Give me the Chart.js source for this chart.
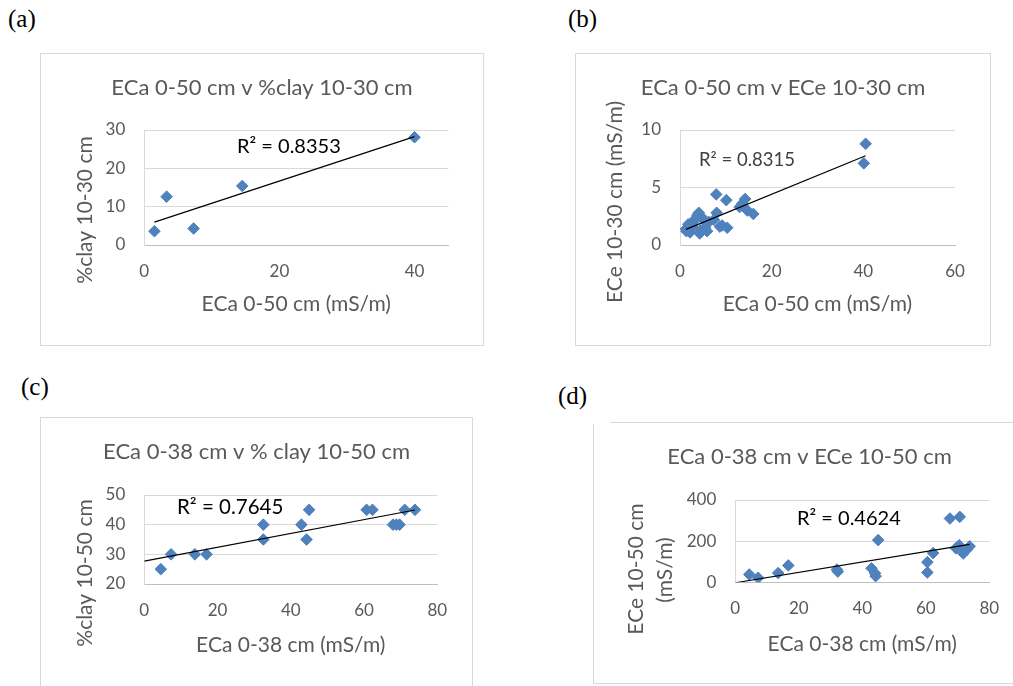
<!DOCTYPE html>
<html>
<head>
<meta charset="utf-8">
<script src="https://cdn.jsdelivr.net/npm/chart.js@4.4.1/dist/chart.umd.min.js"></script>
<style>
    body { margin: 0; background: #fff; width: 1013px; height: 686px; overflow: hidden; position: relative; }
    .tag { position: absolute; font-family: "Liberation Serif", "DejaVu Serif", serif; font-size: 25px; line-height: 25px; color: #000; }
    .box { position: absolute; border: 1px solid #d9d9d9; box-sizing: border-box; }
    canvas { position: absolute; }
</style>
</head>
<body>
<div class="tag" style="left:8px; top:6px">(a)</div>
<div class="tag" style="left:568px; top:6px">(b)</div>
<div class="tag" style="left:21px; top:374px">(c)</div>
<div class="tag" style="left:558px; top:383px">(d)</div>

<div class="box" style="left:40px; top:53px; width:444px; height:293px"></div>
<div class="box" style="left:575px; top:53px; width:416px; height:293px"></div>
<div class="box" style="left:40px; top:417px; width:433px; height:290px"></div>
<div class="box" style="left:593px; top:424px; width:440px; height:260px; border-top:none"></div>
<div class="box" style="left:610px; top:422px; width:420px; height:1px; border:none; background:#d9d9d9"></div>

<canvas id="chartA"></canvas>
<canvas id="chartB"></canvas>
<canvas id="chartC"></canvas>
<canvas id="chartD"></canvas>

<script>
// (a) ECa 0-50 cm vs %clay 10-30 cm
const aX = [1.5, 3.3, 7.3, 14.5, 40.0];
const aY = [3.6, 12.6, 4.3, 15.4, 28.1];

// (b) ECa 0-50 cm vs ECe 10-30 cm
const bX = [1.3, 1.4, 1.8, 2.2, 2.7, 3.1, 3.4, 3.8, 4.1, 4.3, 4.5, 4.8, 5.1, 5.5, 5.9, 6.3, 7.4, 7.9, 8.0, 8.7, 9.2, 10.1, 10.3, 13.0, 13.6, 14.2, 14.7, 16.0, 40.1, 40.5];
const bY = [1.4, 1.2, 1.8, 1.1, 1.6, 2.1, 2.3, 2.6, 2.8, 1.0, 1.3, 2.4, 2.2, 1.5, 1.2, 2.0, 2.2, 4.4, 2.8, 1.6, 1.7, 3.9, 1.5, 3.3, 3.6, 4.0, 3.0, 2.7, 7.1, 8.8];

// (c) ECa 0-38 cm vs % clay 10-50 cm
const cX = [4.5, 7.3, 13.8, 17.0, 32.5, 32.5, 42.9, 44.3, 45.0, 60.7, 62.3, 67.9, 68.8, 69.7, 71.1, 73.9];
const cY = [25, 30, 30, 30, 40, 35, 40, 35, 45, 45, 45, 40, 40, 40, 45, 45];

// (d) ECa 0-38 cm vs ECe 10-50 cm
const dX = [4.4, 7.2, 13.5, 16.7, 32.0, 32.3, 42.9, 44.0, 44.2, 45.0, 60.5, 60.5, 62.3, 67.6, 70.7, 69.5, 70.5, 71.8, 73.0, 73.8];
const dY = [38, 22, 45, 82, 62, 52, 68, 44, 30, 205, 98, 48, 142, 310, 318, 165, 180, 140, 160, 175];

const titles = ["ECa 0-50 cm v %clay 10-30 cm", "ECa 0-50 cm v ECe 10-30 cm", "ECa 0-38 cm v % clay 10-50 cm", "ECa 0-38 cm v ECe 10-50 cm"];
const xTitles = ["ECa 0-50 cm (mS/m)", "ECa 0-50 cm (mS/m)", "ECa 0-38 cm (mS/m)", "ECa 0-38 cm (mS/m)"];
const yTitles = [["%clay 10-30 cm"], ["ECe 10-30 cm (mS/m)"], ["%clay 10-50 cm"], ["ECe 10-50 cm", "(mS/m)"]];
const r2Labels = ["R² = 0.8353", "R² = 0.8315", "R² = 0.7645", "R² = 0.4624"];

const xMax = [45, 60, 80, 80];
const xStep = [20, 20, 20, 20];
const yMin = [0, 0, 20, 0];
const yMax = [30, 10, 50, 400];
const yStep = [10, 5, 10, 200];
const trendFrom = [null, null, 0, 0]; // null = start at smallest x

const GREY = "#595959";
const FONT = "Lato";
const TITLE_SIZE = 22;
const AXIS_SIZE = 21;

// placement of each panel inside the page (px)
const layouts = [
    { id: "chartA", box: [40, 53, 444, 293], area: [104.3, 77, 408.3, 192], titleY: 35, xTitleY: 251,
      yTitle: [[45, 157]], r2: [197, 94, 20, "#000"] },
    { id: "chartB", box: [575, 53, 416, 293], area: [105, 77, 380, 192], titleY: 35, xTitleY: 251,
      yTitle: [[40, 149]], r2: [124, 107, 18.5, "#404040"] },
    { id: "chartC", box: [40, 417, 433, 269], area: [104.3, 78, 397.3, 167], titleY: 34.7, xTitleY: 228,
      yTitle: [[45, 156]], r2: [137, 90, 20.5, "#000"] },
    { id: "chartD", box: [593, 422, 433, 261], area: [142.3, 78, 396.3, 160.3], titleY: 35.3, xTitleY: 222,
      yTitle: [[43.7, 147], [72.7, 148]], r2: [204, 97, 20, "#000"] },
];

const freeText = {
    id: "freeText",
    afterDraw(chart, args, opts) {
        const ctx = chart.ctx;
        (opts.items || []).forEach((it) => {
            ctx.save();
            ctx.translate(it.x, it.y);
            if (it.rotate) ctx.rotate(it.rotate);
            ctx.font = it.font;
            ctx.fillStyle = it.color;
            ctx.textAlign = it.align || "center";
            ctx.textBaseline = "middle";
            ctx.fillText(it.text, 0, 0);
            ctx.restore();
        });
    },
};

function fitLine(xs, ys) {
    const n = xs.length;
    const mx = xs.reduce((s, v) => s + v, 0) / n;
    const my = ys.reduce((s, v) => s + v, 0) / n;
    let sxy = 0;
    let sxx = 0;
    xs.forEach((x, i) => {
        sxy += (x - mx) * (ys[i] - my);
        sxx += (x - mx) * (x - mx);
    });
    const slope = sxy / sxx;
    return { slope, intercept: my - slope * mx };
}

function makeChart(i, xs, ys) {
    const L = layouts[i];
    const [left, top, W, H] = L.box;
    const canvas = document.getElementById(L.id);
    canvas.width = W;
    canvas.height = H;
    canvas.style.left = left + "px";
    canvas.style.top = top + "px";

    const fit = fitLine(xs, ys);
    const x0 = trendFrom[i] === null ? Math.min(...xs) : trendFrom[i];
    const x1 = Math.max(...xs);
    const trend = [x0, x1].map((x) => ({ x, y: fit.intercept + fit.slope * x }));
    const points = xs.map((x, k) => ({ x, y: ys[k] }));

    const items = yTitles[i].map((t, k) => ({
        text: t, x: L.yTitle[k][0], y: L.yTitle[k][1], rotate: -Math.PI / 2,
        font: `${AXIS_SIZE}px ${FONT}`, color: GREY,
    }));
    items.push({
        text: r2Labels[i], x: L.r2[0], y: L.r2[1], align: "left",
        font: `${L.r2[2]}px ${FONT}`, color: L.r2[3],
    });

    const tHalf = TITLE_SIZE * 0.6;
    const aHalf = AXIS_SIZE * 0.6;
    const tickFont = { family: FONT, size: 17 };
    new Chart(canvas, {
        type: "scatter",
        data: {
            datasets: [
                {
                    data: trend,
                    showLine: true,
                    borderColor: "#000",
                    borderWidth: 1.2,
                    pointRadius: 0,
                    order: 0,
                },
                {
                    data: points,
                    pointStyle: "rectRot",
                    pointRadius: 5.8,
                    backgroundColor: "#4f81bd",
                    borderColor: "#4f81bd",
                    borderWidth: 1,
                    order: 1,
                },
            ],
        },
        options: {
            responsive: false,
            animation: false,
            events: [],
            devicePixelRatio: 1,
            layout: { padding: 0 },
            plugins: {
                legend: { display: false },
                tooltip: { enabled: false },
                title: {
                    display: true,
                    text: titles[i],
                    color: GREY,
                    font: { family: FONT, size: TITLE_SIZE, weight: "normal", lineHeight: 1.2 },
                    padding: { top: L.titleY - tHalf, bottom: L.area[1] - L.titleY - tHalf },
                },
                freeText: { items },
            },
            scales: {
                x: {
                    type: "linear",
                    min: 0,
                    max: xMax[i],
                    grid: { display: false, drawTicks: false },
                    border: { display: true, color: "#bfbfbf" },
                    ticks: { stepSize: xStep[i], includeBounds: false, maxRotation: 0, padding: 16, color: GREY, font: tickFont },
                    title: {
                        display: true,
                        text: xTitles[i],
                        color: GREY,
                        font: { family: FONT, size: AXIS_SIZE, lineHeight: 1.2 },
                        padding: { top: 0, bottom: H - L.xTitleY - aHalf },
                    },
                    afterFit: (s) => { s.height = H - L.area[3]; },
                },
                y: {
                    type: "linear",
                    min: yMin[i],
                    max: yMax[i],
                    grid: { color: "#d9d9d9", drawTicks: false },
                    border: { display: true, color: "#d9d9d9" },
                    ticks: { stepSize: yStep[i], padding: 19, color: GREY, font: tickFont },
                    afterFit: (s) => { s.width = L.area[0]; },
                },
                yRight: {
                    type: "linear",
                    position: "right",
                    grid: { display: false, drawTicks: false },
                    border: { display: false },
                    ticks: { display: false },
                    afterFit: (s) => { s.width = W - L.area[2]; },
                },
            },
        },
        plugins: [freeText],
    });
}

makeChart(0, aX, aY);
makeChart(1, bX, bY);
makeChart(2, cX, cY);
makeChart(3, dX, dY);
</script>
</body>
</html>
